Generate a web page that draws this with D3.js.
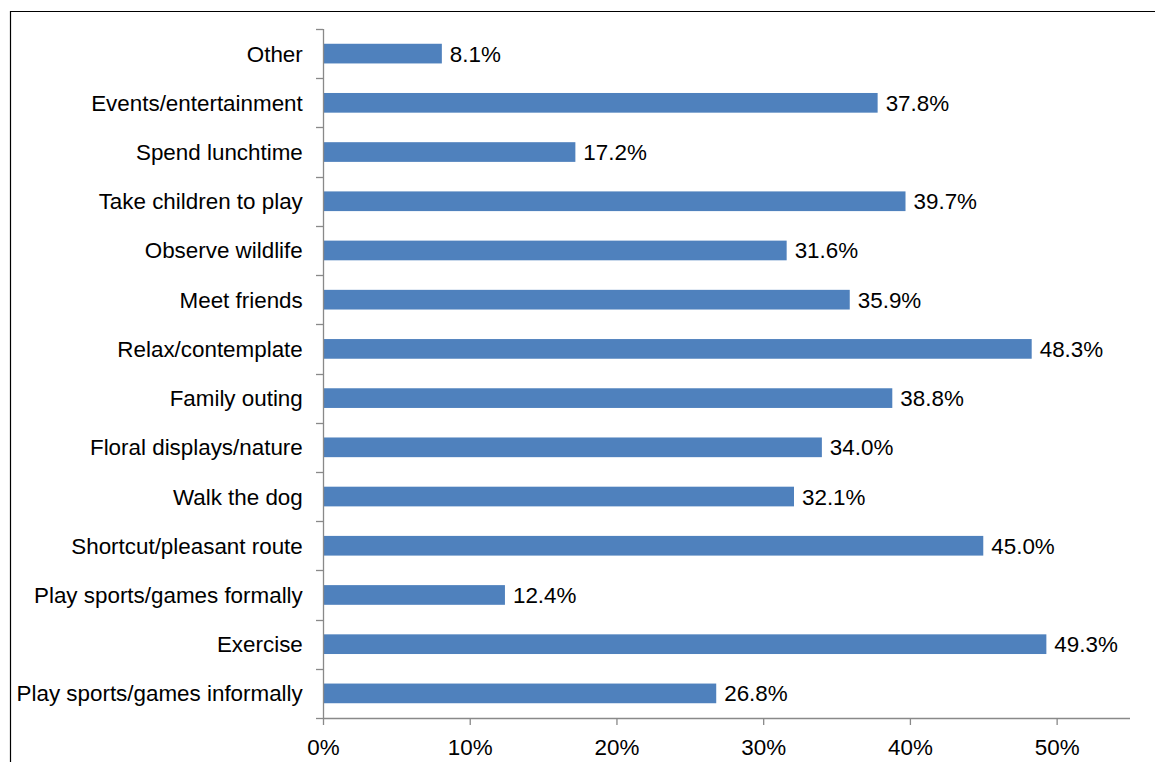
<!DOCTYPE html>
<html>
<head>
<meta charset="utf-8">
<script src="https://cdn.jsdelivr.net/npm/d3@7"></script>
<style>
  html, body { margin: 0; padding: 0; background: #fff; }
  svg { display: block; }
  text { font-family: "Liberation Sans", Arial, sans-serif; fill: #000; }
</style>
</head>
<body>
<svg id="chart" width="1155" height="762"></svg>
<script>
// Reasons for visiting, top to bottom
const categories = [
  "Other ",
  "Events/entertainment",
  "Spend lunchtime",
  "Take children to play",
  "Observe wildlife",
  "Meet friends",
  "Relax/contemplate",
  "Family outing",
  "Floral displays/nature",
  "Walk the dog",
  "Shortcut/pleasant route",
  "Play sports/games formally",
  "Exercise",
  "Play sports/games informally"
];
const percentages = [8.1, 37.8, 17.2, 39.7, 31.6, 35.9, 48.3, 38.8, 34.0, 32.1, 45.0, 12.4, 49.3, 26.8];
const xTickValues = [0, 10, 20, 30, 40, 50];
const xMax = 55;

const svg = d3.select("#chart");
const axisColor = "#898989";
const fontSize = 22.4;

// outer frame (left and top edges fall inside the window)
svg.append("path")
  .attr("d", "M10.5,762 V11.5 H1155")
  .attr("fill", "none")
  .attr("stroke", "#000")
  .attr("stroke-width", 1.2);

const plot = { left: 323, right: 1130, top: 29, bottom: 718 };

const x = d3.scaleLinear().domain([0, xMax]).range([plot.left, plot.right]);
const yBand = d3.scaleBand().domain(categories).range([plot.top, plot.bottom]);
const barHeight = yBand.bandwidth() * 0.4;

// bars
svg.append("g").selectAll("rect")
  .data(categories)
  .join("rect")
  .attr("x", x(0))
  .attr("y", d => yBand(d) + (yBand.bandwidth() - barHeight) / 2)
  .attr("width", (d, i) => x(percentages[i]) - x(0))
  .attr("height", barHeight)
  .attr("fill", "#4F81BD");

// value labels
svg.append("g").selectAll("text")
  .data(categories)
  .join("text")
  .attr("x", (d, i) => x(percentages[i]) + 8)
  .attr("y", d => yBand(d) + yBand.bandwidth() / 2 + 8)
  .attr("font-size", fontSize)
  .text((d, i) => d3.format(".1f")(percentages[i]) + "%");

// category axis: line plus ticks at band boundaries
const yAxisG = svg.append("g");
yAxisG.append("line")
  .attr("x1", plot.left + 0.5).attr("x2", plot.left + 0.5)
  .attr("y1", plot.top).attr("y2", plot.bottom)
  .attr("stroke", axisColor).attr("stroke-width", 1.3);
const boundaries = categories.map(d => yBand(d)).concat([plot.bottom]);
yAxisG.selectAll("line.tick")
  .data(boundaries)
  .join("line")
  .attr("class", "tick")
  .attr("x1", plot.left - 7).attr("x2", plot.left)
  .attr("y1", d => Math.round(d) + 0.5).attr("y2", d => Math.round(d) + 0.5)
  .attr("stroke", axisColor).attr("stroke-width", 1.3);
yAxisG.selectAll("text")
  .data(categories)
  .join("text")
  .attr("x", 309)
  .attr("y", d => yBand(d) + yBand.bandwidth() / 2 + 8)
  .attr("text-anchor", "end")
  .attr("font-size", fontSize)
  .style("white-space", "pre")
  .text(d => d.endsWith(" ") ? d : d + " ");

// value axis
const xAxis = d3.axisBottom(x)
  .tickValues(xTickValues)
  .tickSize(7)
  .tickPadding(14)
  .tickFormat(d => d + "%");
const xAxisG = svg.append("g")
  .attr("transform", `translate(0,${plot.bottom})`)
  .call(xAxis);
xAxisG.select(".domain")
  .attr("d", `M${plot.left},0.5H${plot.right}`)
  .attr("stroke", axisColor).attr("stroke-width", 1.3);
xAxisG.selectAll(".tick line").attr("stroke", axisColor).attr("stroke-width", 1.3);
xAxisG.selectAll(".tick text")
  .attr("font-size", fontSize)
  .attr("font-family", "Liberation Sans, Arial, sans-serif")
  .attr("fill", "#000");
</script>
</body>
</html>
